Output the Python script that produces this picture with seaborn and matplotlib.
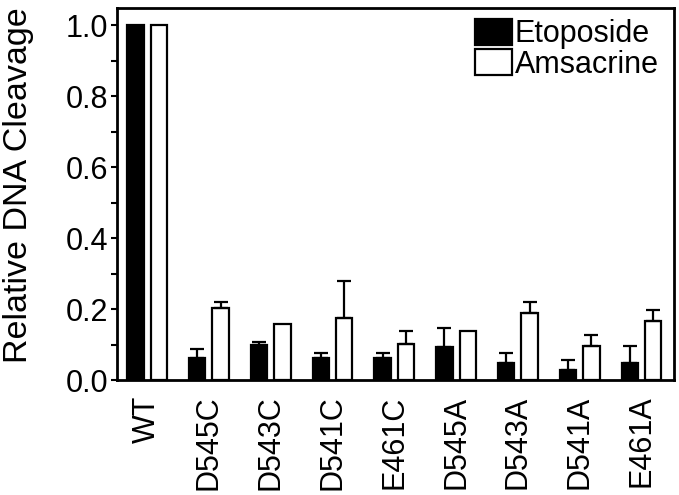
import numpy as np
import pandas as pd
import matplotlib
matplotlib.use("Agg")
import matplotlib.pyplot as plt
import seaborn as sns
from matplotlib.ticker import MultipleLocator

# values
mutants = ["WT", "D545C", "D543C", "D541C", "E461C", "D545A", "D543A", "D541A", "E461A"]
drugs = ["Etoposide", "Amsacrine"]
etoposide = [1.0, 0.063, 0.098, 0.063, 0.063, 0.093, 0.048, 0.028, 0.048]
etoposide_err = [0.0, 0.026, 0.010, 0.014, 0.014, 0.054, 0.028, 0.030, 0.049]
amsacrine = [1.0, 0.203, 0.158, 0.174, 0.103, 0.139, 0.188, 0.096, 0.168]
amsacrine_err = [0.0, 0.016, 0.0, 0.105, 0.036, 0.0, 0.031, 0.031, 0.030]

df = pd.DataFrame({
    "mutant": mutants * 2,
    "drug": [drugs[0]] * len(mutants) + [drugs[1]] * len(mutants),
    "cleavage": etoposide + amsacrine,
})
errors = {drugs[0]: etoposide_err, drugs[1]: amsacrine_err}

sns.set_style("ticks")
plt.rcParams["font.family"] = ["Liberation Sans", "DejaVu Sans"]
plt.rcParams["text.color"] = "black"
plt.rcParams["axes.labelcolor"] = "black"
plt.rcParams["xtick.color"] = "black"
plt.rcParams["ytick.color"] = "black"

fig = plt.figure(figsize=(6.79, 4.95), dpi=100)
ax = fig.add_axes([0.172, 0.232, 0.821, 0.751])

sns.barplot(data=df, x="mutant", y="cleavage", hue="drug", order=mutants,
            hue_order=drugs, palette={"Etoposide": "black", "Amsacrine": "white"},
            edgecolor="black", linewidth=1.6, width=0.76, gap=0.3,
            errorbar=None, ax=ax)

# upper-only error bars
for drug, cont in zip(drugs, ax.containers):
    err = np.array(errors[drug])
    xs = np.array([b.get_x() + b.get_width() / 2 for b in cont])
    ys = np.array([b.get_height() for b in cont])
    m = err > 0
    ax.errorbar(xs[m], ys[m], yerr=[np.zeros(m.sum()), err[m]], fmt="none",
                ecolor="black", elinewidth=1.6, capsize=5, capthick=1.6, zorder=3)

ax.set_xlim(-0.49, 8.53)
ax.set_ylim(0, 1.048)
ax.yaxis.set_major_locator(MultipleLocator(0.2))
ax.yaxis.set_minor_locator(MultipleLocator(0.1))
ax.yaxis.set_major_formatter(matplotlib.ticker.FormatStrFormatter("%.1f"))
ax.tick_params(axis="y", which="both", direction="out", length=4, width=1.5,
               labelsize=22, pad=2)
ax.tick_params(axis="x", length=0, labelsize=22, pad=11, labelrotation=90)
for s in ax.spines.values():
    s.set_linewidth(2)
    s.set_color("black")

ax.set_xlabel("")
ax.set_ylabel("Relative DNA Cleavage", fontsize=24.5)
ax.yaxis.set_label_coords(-0.149, 0.525)

ax.legend(loc="upper left", bbox_to_anchor=(0.643, 0.972), frameon=False,
          fontsize=22, handlelength=1.2, handleheight=0.92, labelspacing=0.0,
          handletextpad=0.1, borderpad=0, borderaxespad=0)

fig.savefig("out.png", dpi=100)
